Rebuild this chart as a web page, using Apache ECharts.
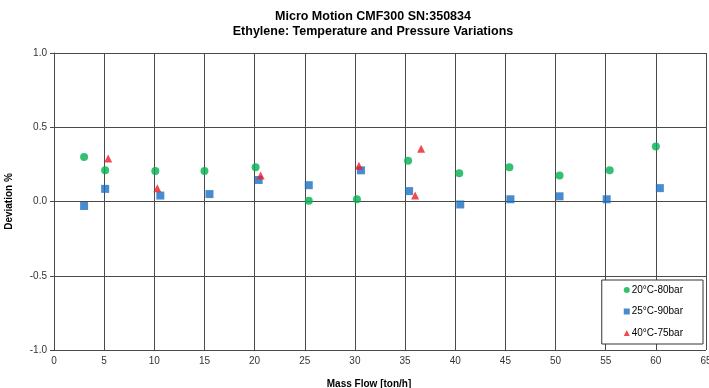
<!DOCTYPE html>
<html>
<head>
<meta charset="utf-8">
<script src="https://cdn.jsdelivr.net/npm/echarts@6/dist/echarts.min.js"></script>
<style>
html,body{margin:0;padding:0;background:#fff;}
#chart{width:709px;height:388px;}
</style>
</head>
<body>
<div id="chart"></div>
<script>
// 20°C-80bar
var flow20 = [3.0, 5.1, 10.1, 15.0, 20.1, 25.4, 30.2, 35.3, 40.4, 45.4, 50.4, 55.4, 60.0];
var dev20 = [0.30, 0.21, 0.205, 0.205, 0.23, 0.005, 0.015, 0.275, 0.19, 0.23, 0.175, 0.21, 0.37];
// 25°C-90bar
var flow25 = [3.0, 5.1, 10.6, 15.5, 20.4, 25.4, 30.6, 35.4, 40.5, 45.5, 50.4, 55.1, 60.4];
var dev25 = [-0.03, 0.085, 0.04, 0.05, 0.145, 0.11, 0.21, 0.07, -0.02, 0.015, 0.035, 0.015, 0.09];
// 40°C-75bar
var flow40 = [5.4, 10.3, 20.6, 30.4, 36.6, 36.0];
var dev40 = [0.29, 0.09, 0.175, 0.24, 0.355, 0.04];

var xTicks = {min: 0, max: 65, interval: 5};
var yTicks = {min: -1, max: 1, interval: 0.5};

var pairs = function(xs, ys) {
	var out = [];
	for (var i = 0; i < xs.length; i++) {
		out.push([xs[i], ys[i]]);
	}
	return out;
};

var gridColor = '#4a4a4a';
var chart = echarts.init(document.getElementById('chart'));
var option = {
	animation: false,
	title: {
		text: 'Micro Motion CMF300 SN:350834\nEthylene: Temperature and Pressure Variations',
		left: 368,
		top: 4,
		textAlign: 'center',
		textStyle: {
			fontFamily: 'Liberation Sans, Arial',
			fontSize: 12.5,
			fontWeight: 'bold',
			color: '#000',
			lineHeight: 15
		}
	},
	grid: {left: 54, right: 3, top: 53, bottom: 38, outerBoundsMode: 'none', containLabel: false},
	legend: {
		orient: 'vertical',
		right: 6,
		bottom: 44,
		padding: [5, 20, 6, 22],
		itemGap: 11.5,
		itemWidth: 6,
		itemHeight: 6,
		borderColor: '#333',
		borderWidth: 1,
		backgroundColor: '#fff',
		textStyle: {fontFamily: 'Liberation Sans, Arial', fontSize: 10, color: '#000', padding: [0, 0, 0, -3]},
		data: [
			{name: '20°C-80bar', icon: 'circle'},
			{name: '25°C-90bar', icon: 'rect'},
			{name: '40°C-75bar', icon: 'triangle'}
		]
	},
	xAxis: {
		type: 'value',
		min: xTicks.min,
		max: xTicks.max,
		interval: xTicks.interval,
		name: 'Mass Flow [ton/h]',
		nameLocation: 'middle',
		nameGap: 29,
		nameTextStyle: {fontFamily: 'Liberation Sans, Arial', fontSize: 10, fontWeight: 'bold', color: '#000', padding: [0, 22, 0, 0]},
		axisLine: {show: true, lineStyle: {color: gridColor}},
		axisTick: {show: true, length: 4, lineStyle: {color: gridColor}},
		axisLabel: {fontFamily: 'Liberation Sans, Arial', fontSize: 10, color: '#333', margin: 6},
		splitLine: {show: true, lineStyle: {color: gridColor, width: 1}}
	},
	yAxis: {
		type: 'value',
		min: yTicks.min,
		max: yTicks.max,
		interval: yTicks.interval,
		name: 'Deviation %',
		nameLocation: 'middle',
		nameGap: 40,
		nameTextStyle: {fontFamily: 'Liberation Sans, Arial', fontSize: 10, fontWeight: 'bold', color: '#000'},
		axisLine: {show: true, lineStyle: {color: gridColor}},
		axisTick: {show: true, length: 4, lineStyle: {color: gridColor}},
		axisLabel: {
			fontFamily: 'Liberation Sans, Arial',
			fontSize: 10,
			color: '#333',
			margin: 7,
			formatter: function(v) { return v.toFixed(1); }
		},
		splitLine: {show: true, lineStyle: {color: gridColor, width: 1}}
	},
	series: [{
		name: '20°C-80bar',
		type: 'scatter',
		symbol: 'circle',
		symbolSize: 8,
		itemStyle: {color: '#00b050'},
		data: pairs(flow20, dev20)
	}, {
		name: '25°C-90bar',
		type: 'scatter',
		symbol: 'rect',
		symbolSize: 8,
		itemStyle: {color: '#1a6fc2'},
		data: pairs(flow25, dev25)
	}, {
		name: '40°C-75bar',
		type: 'scatter',
		symbol: 'triangle',
		symbolSize: 8,
		itemStyle: {color: '#ee1c25'},
		data: pairs(flow40, dev40)
	}]
};
chart.setOption(option);
</script>
</body>
</html>
